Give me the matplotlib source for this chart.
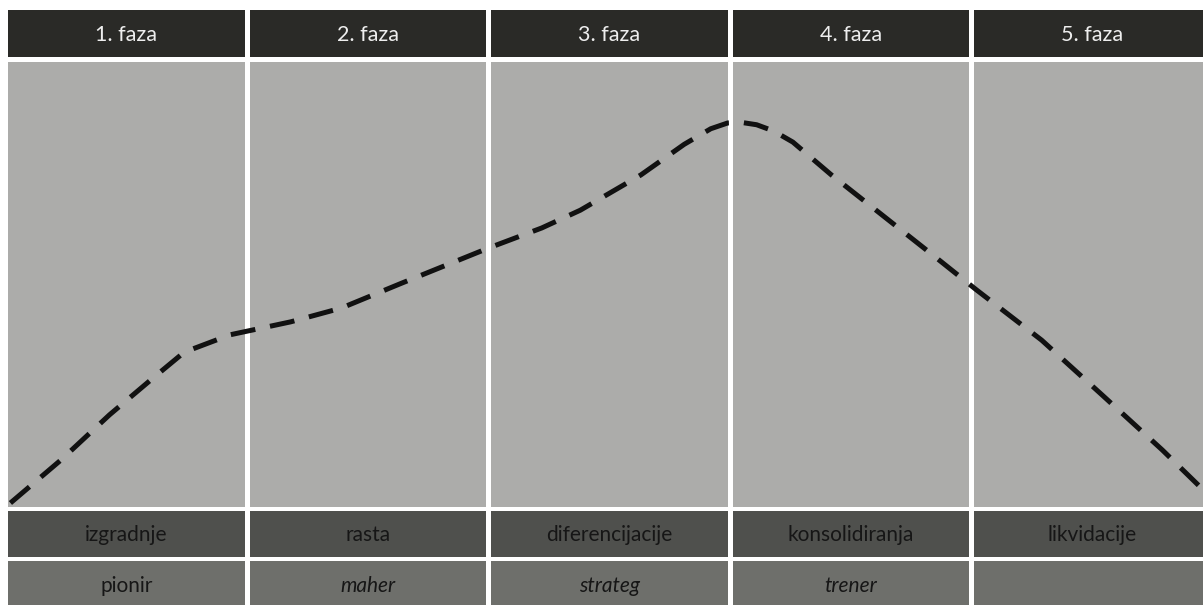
import matplotlib.pyplot as plt
from matplotlib.patches import Rectangle

# data
phases = ["1. faza", "2. faza", "3. faza", "4. faza", "5. faza"]
stage_names = ["izgradnje", "rasta", "diferencijacije", "konsolidiranja", "likvidacije"]
roles = ["pionir", "maher", "strateg", "trener", ""]
role_italic = [False, True, True, True, False]

# curve: position in phase units (0..5), level 0..100
curve_x = [0.01, 0.22, 0.42, 0.59, 0.73, 0.92, 1.17, 1.38, 1.63, 1.99, 2.21,
           2.37, 2.62, 2.80, 2.91, 2.98, 3.04, 3.10, 3.17, 3.25, 3.41, 3.62,
           3.83, 4.01, 4.28, 4.53, 4.78, 4.95]
curve_y = [0.9, 10.6, 20.7, 28.5, 34.8, 38.7, 41.6, 44.7, 50.3, 58.2, 62.7,
           66.7, 74.6, 81.5, 85.0, 86.3, 86.4, 85.9, 84.5, 82.0, 74.6, 65.6,
           56.6, 48.8, 37.5, 25.2, 12.8, 3.8]

W, H = 1203, 605
fig = plt.figure(figsize=(W / 100, H / 100), dpi=100)
fig.patch.set_facecolor("white")

# layout axes in pixel coordinates
ax = fig.add_axes([0, 0, 1, 1])
ax.set_xlim(0, W)
ax.set_ylim(H, 0)
ax.axis("off")

x0 = 8
pitch = 241.5
gap = 5
rows = [  # top, bottom, colour
    (10, 57, "#2a2a27"),
    (62, 507, "#acacaa"),
    (511, 557, "#4f504d"),
    (561, 610, "#6e6f6b"),
]

font = ["Lato", "DejaVu Sans"]
for i in range(5):
    left = x0 + i * pitch
    w = pitch - gap if i < 4 else W - left + 5
    for top, bot, col in rows:
        ax.add_patch(Rectangle((left, top), w, bot - top, color=col, lw=0))
    cx = x0 + i * pitch + (pitch - gap) / 2
    ax.text(cx, 35, phases[i], ha="center", va="center", color="#eeeeee",
            fontsize=15.5, family=font)
    ax.text(cx, 535, stage_names[i], ha="center", va="center", color="#161616",
            fontsize=15, family=font)
    ax.text(cx, 586, roles[i], ha="center", va="center", color="#161616",
            fontsize=15, family=font,
            style="italic" if role_italic[i] else "normal")

# curve axes over the main area
cax = fig.add_axes([x0 / W, 1 - 507 / H, 5 * pitch / W, (507 - 62) / H])
cax.set_xlim(0, 5)
cax.set_ylim(0, 100)
cax.axis("off")
cax.plot(curve_x, curve_y, color="#111111", lw=3.6, dashes=(5, 3),
         solid_capstyle="butt", dash_capstyle="butt")

fig.savefig("out.png", dpi=100)
